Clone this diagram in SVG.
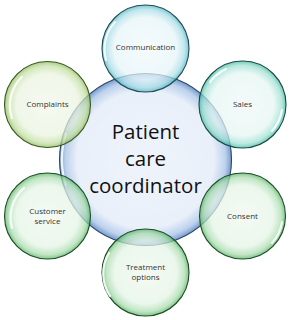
<svg xmlns="http://www.w3.org/2000/svg" width="295" height="320" viewBox="0 0 295 320">
<defs>
<radialGradient id="gBlue" cx="50%" cy="50%" r="50%">
<stop offset="0%" stop-color="#eef3fb"/>
<stop offset="80%" stop-color="#e8eff9"/>
<stop offset="93%" stop-color="#b9cfeb"/>
<stop offset="100%" stop-color="#6f97cc"/>
</radialGradient>
<radialGradient id="gAqua" cx="50%" cy="50%" r="50%">
<stop offset="0%" stop-color="#f0f9fb"/>
<stop offset="72%" stop-color="#e6f5f8"/>
<stop offset="90%" stop-color="#a8dde6"/>
<stop offset="100%" stop-color="#4fb3c4"/>
</radialGradient>
<radialGradient id="gTeal" cx="50%" cy="50%" r="50%">
<stop offset="0%" stop-color="#eff9f7"/>
<stop offset="72%" stop-color="#e5f6f2"/>
<stop offset="90%" stop-color="#9fe0d3"/>
<stop offset="100%" stop-color="#3fb9a1"/>
</radialGradient>
<radialGradient id="gLime" cx="50%" cy="50%" r="50%">
<stop offset="0%" stop-color="#f2f7ec"/>
<stop offset="72%" stop-color="#eaf3df"/>
<stop offset="90%" stop-color="#c3dfa3"/>
<stop offset="100%" stop-color="#8cbc5a"/>
</radialGradient>
<radialGradient id="gGreen" cx="50%" cy="50%" r="50%">
<stop offset="0%" stop-color="#eff8ef"/>
<stop offset="72%" stop-color="#e4f4e5"/>
<stop offset="90%" stop-color="#a9dcae"/>
<stop offset="100%" stop-color="#4fb35e"/>
</radialGradient>
</defs>
<style>
.bub{fill-opacity:0.72;stroke-width:1.1}
.core{fill-opacity:0.95;stroke-width:1.1}
.gloss{fill:none;stroke:#ffffff;stroke-width:2.2;stroke-opacity:0.85;stroke-linecap:round}
.lbl{font-family:"Open Sans","Noto Sans","Liberation Sans",sans-serif;font-size:8px;fill:#333333;text-anchor:middle}
.big{font-family:"Open Sans","Noto Sans","Liberation Sans",sans-serif;font-size:20.5px;fill:#111111;text-anchor:middle}
</style>

<g id="center">
<circle class="core" cx="145.5" cy="159.5" r="86" fill="url(#gBlue)" stroke="#2b4566"/>
<path class="gloss" d="M 66 185 A 82 82 0 0 1 66 134"/>
<text class="big" x="145.5" y="139">Patient</text>
<text class="big" x="145.5" y="166">care</text>
<text class="big" x="145.5" y="193">coordinator</text>
</g>

<g id="communication">
<circle class="bub" cx="145.5" cy="48.5" r="43.5" fill="url(#gAqua)" stroke="#1f4c54"/>
<path class="gloss" d="M 106 60 A 40 40 0 0 1 115 22"/>
<text class="lbl" x="145.5" y="50">Communication</text>
</g>

<g id="sales">
<circle class="bub" cx="242.5" cy="104.5" r="43.5" fill="url(#gTeal)" stroke="#1b4a42"/>
<path class="gloss" d="M 272 131 A 40 40 0 0 0 282 110"/>
<path class="gloss" d="M 210 82 A 40 40 0 0 1 226 69"/>
<text class="lbl" x="242.5" y="107">Sales</text>
</g>

<g id="complaints">
<circle class="bub" cx="47.5" cy="104.5" r="43" fill="url(#gLime)" stroke="#3a5620"/>
<path class="gloss" d="M 12 118 A 39 39 0 0 1 22 77"/>
<text class="lbl" x="47.5" y="107">Complaints</text>
</g>

<g id="customer-service">
<circle class="bub" cx="47.5" cy="216" r="43" fill="url(#gGreen)" stroke="#1f4a25"/>
<path class="gloss" d="M 12 228 A 39 39 0 0 1 24 188"/>
<text class="lbl" x="47.5" y="214">Customer</text>
<text class="lbl" x="47.5" y="224">service</text>
</g>

<g id="consent">
<circle class="bub" cx="242.5" cy="216" r="43" fill="url(#gGreen)" stroke="#1f4a25"/>
<path class="gloss" d="M 272 243 A 39 39 0 0 0 282 222"/>
<text class="lbl" x="242.5" y="218.5">Consent</text>
</g>

<g id="treatment-options">
<circle class="bub" cx="145.5" cy="272.5" r="43.5" fill="url(#gGreen)" stroke="#1f4a25"/>
<path class="gloss" d="M 110 296 A 40 40 0 0 1 109 253"/>
<text class="lbl" x="145.5" y="269.5">Treatment</text>
<text class="lbl" x="145.5" y="280">options</text>
</g>
</svg>
